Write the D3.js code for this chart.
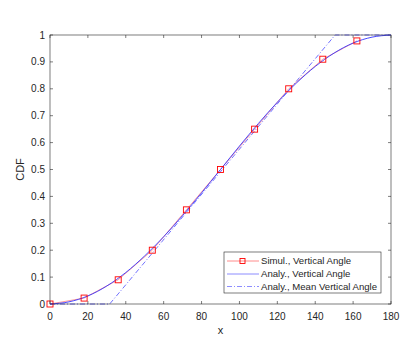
<!DOCTYPE html>
<html>
<head>
<meta charset="utf-8">
<script src="https://cdn.jsdelivr.net/npm/d3@7"></script>
<style>
  body { margin: 0; background: #fff; }
  text { font-family: "Liberation Sans", Arial, sans-serif; }
</style>
</head>
<body>
<svg id="chart" width="415" height="347"></svg>
<script>
// simulated points (markers)
const simX = [0, 18, 36, 54, 72, 90, 108, 126, 144, 162];
const simY = [0, 0.022, 0.09, 0.2, 0.35, 0.5, 0.65, 0.8, 0.91, 0.978];

// analytic curve
const anaX = [0, 10, 20, 30, 40, 50, 60, 70, 80, 90, 100, 110, 120, 130, 140, 150, 160, 170, 180];
const anaY = [0, 0.008, 0.03, 0.067, 0.117, 0.179, 0.25, 0.329, 0.413, 0.5, 0.587, 0.671, 0.75, 0.821, 0.883, 0.933, 0.97, 0.992, 1];

// analytic, mean vertical angle
const meanX = [0, 31.5, 150.5, 180];
const meanY = [0, 0, 1, 1];

const xTicks = [0, 20, 40, 60, 80, 100, 120, 140, 160, 180];
const yTicks = [0, 0.1, 0.2, 0.3, 0.4, 0.5, 0.6, 0.7, 0.8, 0.9, 1];

const legendLabels = ["Simul., Vertical Angle", "Analy., Vertical Angle", "Analy., Mean Vertical Angle"];

const margin = { left: 50, top: 35, right: 24, bottom: 43 };
const width = 415, height = 347;
const svg = d3.select("#chart");

const x = d3.scaleLinear().domain([0, 180]).range([margin.left, width - margin.right]);
const y = d3.scaleLinear().domain([0, 1]).range([height - margin.bottom, margin.top]);

const axisColor = "#262626";
const tickLen = 3;

// ticks (inside, all four sides)
const tickG = svg.append("g").attr("stroke", axisColor).attr("stroke-width", 0.6);
xTicks.forEach((t) => {
  tickG.append("line").attr("x1", x(t)).attr("x2", x(t))
    .attr("y1", y(0)).attr("y2", y(0) - tickLen);
  tickG.append("line").attr("x1", x(t)).attr("x2", x(t))
    .attr("y1", y(1)).attr("y2", y(1) + tickLen);
});
yTicks.forEach((t) => {
  tickG.append("line").attr("x1", x(0)).attr("x2", x(0) + tickLen)
    .attr("y1", y(t)).attr("y2", y(t));
  tickG.append("line").attr("x1", x(180)).attr("x2", x(180) - tickLen)
    .attr("y1", y(t)).attr("y2", y(t));
});

// tick labels
svg.append("g").selectAll("text").data(xTicks).join("text")
  .attr("x", (d) => x(d)).attr("y", y(0) + 16)
  .attr("text-anchor", "middle").attr("font-size", 10).attr("fill", axisColor)
  .text((d) => d);
svg.append("g").selectAll("text").data(yTicks).join("text")
  .attr("x", x(0) - 5).attr("y", (d) => y(d) + 3.5)
  .attr("text-anchor", "end").attr("font-size", 10).attr("fill", axisColor)
  .text((d) => d3.format("~g")(d));

// axis titles
svg.append("text").attr("x", x(90)).attr("y", 334)
  .attr("text-anchor", "middle").attr("font-size", 11).attr("fill", axisColor).text("x");
svg.append("text").attr("transform", `translate(24,${y(0.5)}) rotate(-90)`)
  .attr("text-anchor", "middle").attr("font-size", 11).attr("fill", axisColor).text("CDF");

// lines
const line = d3.line().x((d) => x(d[0])).y((d) => y(d[1]));
const simData = simX.map((v, i) => [v, simY[i]]);
const anaData = anaX.map((v, i) => [v, anaY[i]]);
const meanData = meanX.map((v, i) => [v, meanY[i]]);

svg.append("path").datum(simData).attr("d", line)
  .attr("fill", "none").attr("stroke", "#ff8080").attr("stroke-width", 0.8);

svg.append("path").datum(anaData).attr("d", line.curve(d3.curveMonotoneX))
  .attr("fill", "none").attr("stroke", "#3333ff").attr("stroke-width", 0.9);

svg.append("path").datum(meanData).attr("d", d3.line().x((d) => x(d[0])).y((d) => y(d[1])))
  .attr("fill", "none").attr("stroke", "#4d4dff").attr("stroke-width", 0.8)
  .attr("stroke-dasharray", "5,2,1,2");

// markers
svg.append("g").selectAll("rect").data(simData).join("rect")
  .attr("x", (d) => x(d[0]) - 3).attr("y", (d) => y(d[1]) - 3)
  .attr("width", 6).attr("height", 6)
  .attr("fill", "none").attr("stroke", "#ff0000").attr("stroke-width", 0.9);

// box
svg.append("rect").attr("x", x(0)).attr("y", y(1))
  .attr("width", x(180) - x(0)).attr("height", y(0) - y(1))
  .attr("fill", "none").attr("stroke", axisColor).attr("stroke-width", 0.6);

// legend
const lg = svg.append("g").attr("transform", "translate(224,252)");
lg.append("rect").attr("width", 157).attr("height", 41)
  .attr("fill", "#fff").attr("stroke", axisColor).attr("stroke-width", 0.6);
const rowY = [9, 22, 34.5];
const legendStroke = ["#ff8080", "#8080ff", "#8080ff"];
const legendDash = [null, null, "5,2,1,2"];
legendLabels.forEach((lab, i) => {
  lg.append("line").attr("x1", 3).attr("x2", 35).attr("y1", rowY[i]).attr("y2", rowY[i])
    .attr("stroke", legendStroke[i]).attr("stroke-width", 0.9)
    .attr("stroke-dasharray", legendDash[i]);
  lg.append("text").attr("x", 37).attr("y", rowY[i] + 3.4)
    .attr("font-size", 9.6).attr("fill", axisColor).text(lab);
});
lg.append("rect").attr("x", 16).attr("y", rowY[0] - 2.5).attr("width", 5).attr("height", 5)
  .attr("fill", "none").attr("stroke", "#ff0000").attr("stroke-width", 0.9);
</script>
</body>
</html>
